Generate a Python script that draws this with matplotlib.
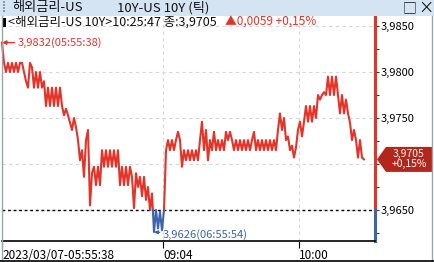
import numpy as np
import matplotlib.pyplot as plt
from matplotlib.patches import Rectangle, Polygon
from matplotlib.lines import Line2D
from matplotlib.ticker import FixedLocator, MultipleLocator, FuncFormatter

plt.rcParams['font.family'] = ['Noto Sans CJK KR', 'DejaVu Sans']

# tick-by-tick prices (one value per tick)
prices = [
    3.9832, 3.9810,
    3.9800, 3.9810, 3.9800, 3.9810, 3.9800, 3.9810, 3.9800, 3.9810, 3.9810, 3.9800,
    3.9790, 3.9783, 3.9810, 3.9805,
    3.9783, 3.9800, 3.9783, 3.9800, 3.9783, 3.9790,
    3.9763, 3.9783, 3.9763, 3.9783, 3.9763, 3.9783, 3.9763, 3.9783, 3.9763,
    3.9753, 3.9760, 3.9753, 3.9745, 3.9737,
    3.9750, 3.9740, 3.9726, 3.9704, 3.9715, 3.9686, 3.9726, 3.9737,
    3.9655, 3.9690, 3.9697, 3.9677, 3.9697, 3.9677,
    3.9715, 3.9697, 3.9715, 3.9697, 3.9715, 3.9697, 3.9715, 3.9697, 3.9715,
    3.9677, 3.9697, 3.9677, 3.9697, 3.9677, 3.9697, 3.9686, 3.9652,
    3.9690, 3.9675, 3.9686, 3.9665, 3.9686,
    3.9661, 3.9675, 3.9650, 3.9668,
    3.9626, 3.9650, 3.9630, 3.9648, 3.9628, 3.9650,
    3.9715, 3.9726, 3.9715, 3.9726, 3.9715, 3.9726, 3.9735, 3.9726,
    3.9697, 3.9715, 3.9704, 3.9715, 3.9704, 3.9715, 3.9704, 3.9715, 3.9704, 3.9726, 3.9746,
    3.9715, 3.9737, 3.9704, 3.9726, 3.9715, 3.9735, 3.9715,
    3.9726, 3.9715, 3.9726, 3.9715, 3.9735, 3.9726,
    3.9735, 3.9726, 3.9715, 3.9726, 3.9715, 3.9726,
    3.9715, 3.9726, 3.9715, 3.9726, 3.9715, 3.9726, 3.9735, 3.9715, 3.9726,
    3.9715, 3.9726, 3.9715, 3.9726, 3.9715, 3.9726, 3.9715, 3.9726, 3.9715,
    3.9737, 3.9755, 3.9737, 3.9750, 3.9726,
    3.9730, 3.9715, 3.9720, 3.9707, 3.9718,
    3.9737, 3.9746, 3.9730,
    3.9746, 3.9763, 3.9746, 3.9763, 3.9746, 3.9763, 3.9750,
    3.9775, 3.9770, 3.9775, 3.9778, 3.9775,
    3.9795, 3.9775, 3.9795, 3.9775, 3.9795,
    3.9775, 3.9755, 3.9775, 3.9755, 3.9770,
    3.9755, 3.9745, 3.9726, 3.9737, 3.9726,
    3.9707, 3.9726, 3.9707, 3.9705,
]
prev_close = 3.9650
change = 0.0059
change_pct = 0.15
last_time = "10:25:47"
high_time = "05:55:38"
low_time = "06:55:54"
time_ticks = [0, 80.5, 148.5]
time_labels = ["2023/03/07-05:55:38", "09:04", "10:00"]

RED = '#e3342a'
BLUE = '#3d64aa'


def fmt(v):
    return f"{v:.4f}".replace('.', ',')


W, H = 434, 262
fig = plt.figure(figsize=(W / 100, H / 100), dpi=100)
fig.patch.set_facecolor('white')

# title bar
fig.patches.append(Rectangle((0, 1 - 16 / H), 1, 16 / H, transform=fig.transFigure,
                             facecolor='#d4e4f3', edgecolor='none'))
fig.text(12 / W, 1 - 8 / H, "해외금리-US", fontsize=9.5, va='center', ha='left', color='#111111')
fig.text(117 / W, 1 - 8 / H, "10Y-US 10Y (틱)", fontsize=9.5, va='center', ha='left', color='#111111')
fig.text(403 / W, 1 - 8 / H, "□", fontsize=10, va='center', ha='left', color='#111111')
fig.text(418 / W, 1 - 8 / H, "×", fontsize=11, va='center', ha='left', color='#111111')
for k in range(4):
    fig.patches.append(Rectangle((3 / W, 1 - (3 + 3 * k) / H), 1.5 / W, 1.5 / H,
                                 transform=fig.transFigure, facecolor='#8a9aaa', edgecolor='none'))

ax = fig.add_axes([2 / W, 21 / H, 373 / W, 224 / H])
x = np.arange(len(prices))
p = np.array(prices)
last = p[-1]

ax.set_xlim(0, 186.5)
ax.set_ylim(3.96163, 3.98598)

# grid
ax.yaxis.set_major_locator(MultipleLocator(0.005))
ax.yaxis.set_minor_locator(MultipleLocator(0.0025))
ax.xaxis.set_major_locator(FixedLocator(time_ticks))
ax.set_xticklabels(time_labels)
ax.grid(True, which='major', color='#d6d6d6', ls=(0, (3, 3)), lw=0.8)
ax.axhline(prev_close, color='black', ls=(0, (2, 2)), lw=1)

# price line, red above previous close, blue below
lr, = ax.plot(x, p, color=RED, lw=1.5)
lb, = ax.plot(x, p, color=BLUE, lw=1.5)
clip_up = Rectangle((-10, prev_close), 400, 1, transform=ax.transData)
clip_dn = Rectangle((-10, prev_close - 1), 400, 1, transform=ax.transData)
lr.set_clip_path(clip_up)
lb.set_clip_path(clip_dn)

# high / low annotations
imax, imin = int(np.argmax(p)), int(np.argmin(p))
ax.annotate(f"{fmt(p[imax])}({high_time})", xy=(imax, p[imax]), xytext=(11, 0),
            textcoords='offset points', ha='left', va='center', fontsize=8, color=RED,
            arrowprops=dict(arrowstyle='-|>', color=RED, lw=1, mutation_scale=6,
                            shrinkA=0, shrinkB=0))
ax.annotate(f"{fmt(p[imin])}({low_time})", xy=(imin, p[imin]), xytext=(6, -2),
            textcoords='offset points', ha='left', va='center', fontsize=8, color=BLUE,
            arrowprops=dict(arrowstyle='-|>', color=BLUE, lw=1, mutation_scale=5,
                            shrinkA=0, shrinkB=0))

# axes styling
for s in ['top', 'left', 'right']:
    ax.spines[s].set_visible(False)
ax.spines['bottom'].set_color('black')
ax.spines['bottom'].set_linewidth(1.2)
ax.yaxis.tick_right()
# the label under the last-price tag is covered, so leave it blank
ax.yaxis.set_major_formatter(FuncFormatter(lambda v, pos: '' if abs(v - last) < 0.0015 else fmt(v)))
ax.tick_params(axis='y', which='both', direction='out', length=3, width=0.8,
               color='#333333', labelsize=8, pad=1)
ax.tick_params(axis='x', direction='out', length=5, width=0.8, labelsize=8.5, pad=1)
for lab in ax.get_xticklabels():
    lab.set_ha('left')

# right axis line, red above previous close and blue below
ylo, yhi = ax.get_ylim()
f = (prev_close - ylo) / (yhi - ylo)
ax.plot([1, 1], [f, 1], transform=ax.transAxes, color=RED, lw=2.2, clip_on=False)
ax.plot([1, 1], [0, f], transform=ax.transAxes, color=BLUE, lw=2.2, clip_on=False)

# header line inside the chart
fig.patches.append(Rectangle((3 / W, 1 - 27 / H), 3 / W, 9 / H, transform=fig.transFigure,
                             facecolor='black', edgecolor='none'))
fig.text(8 / W, 1 - 22.5 / H, f"<해외금리-US 10Y>{last_time} 종:{fmt(last)}",
         fontsize=9, va='center', ha='left', color='#111111')
fig.text(225 / W, 1 - 22.5 / H, f"▲{fmt(change)} +{change_pct:.2f}%".replace('.', ','),
         fontsize=8.5, va='center', ha='left', color=RED)

# last price tag on the right axis
fig.canvas.draw()
yc = ax.transData.transform((0, last))[1]
tag = np.array([[377, yc], [386, yc + 12.5], [432, yc + 12.5], [432, yc - 12.5], [386, yc - 12.5]])
fig.patches.append(Polygon(tag, closed=True, transform=None, facecolor='#b3261c', edgecolor='none'))
tag_text = fmt(last) + "\n" + f"+{change_pct:.2f}%".replace('.', ',')
fig.text(409 / W, yc / H, tag_text, fontsize=7.5, color='white', ha='center', va='center',
         linespacing=1.0, multialignment='center')

# frame lines
fig.add_artist(Line2D([1.5 / W, 1.5 / W], [0, 1 - 16 / H], transform=fig.transFigure,
                      color='#9aa6b2', lw=1))
fig.add_artist(Line2D([431.5 / W, 431.5 / W], [0, 1 - 16 / H], transform=fig.transFigure,
                      color='#9aa6b2', lw=1))
fig.add_artist(Line2D([0, 1], [1 / H, 1 / H], transform=fig.transFigure, color='black', lw=1.2))

fig.savefig('out.png', dpi=100)
